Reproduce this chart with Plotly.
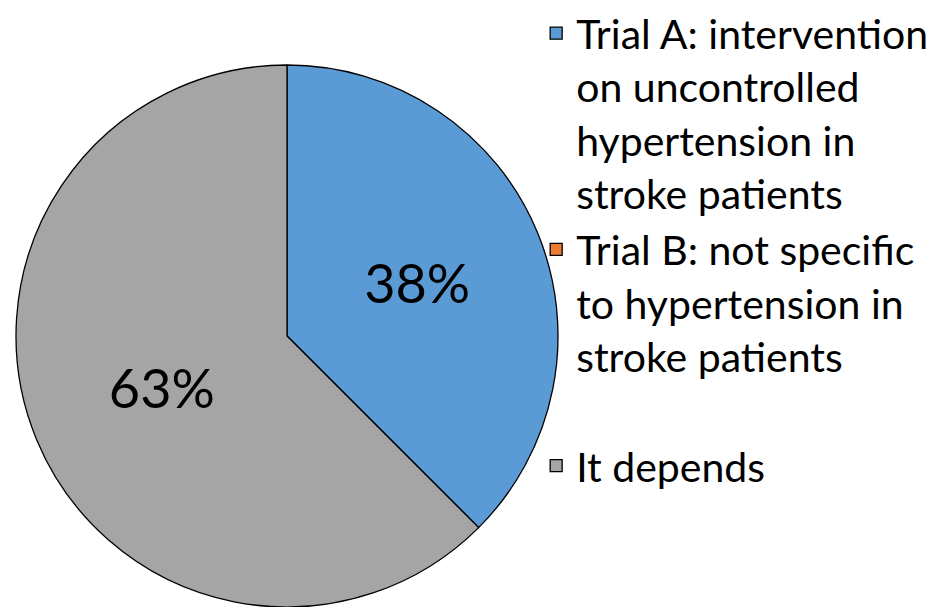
import plotly.graph_objects as go

labels = [
    "Trial A: intervention<br>on uncontrolled<br>hypertension in<br>stroke patients",
    "Trial B: not specific<br>to hypertension in<br>stroke patients<br> ",
    "It depends",
]
values = [3, 0, 5]
colors = ["#5B9BD5", "#ED7D31", "#A5A5A5"]
slice_text = ["%{percent:.0%}", "", "%{percent:.0%}"]

fig = go.Figure(
    go.Pie(
        labels=labels,
        values=values,
        sort=False,
        direction="clockwise",
        rotation=0,
        marker=dict(colors=colors, line=dict(color="black", width=1.3)),
        texttemplate=slice_text,
        textposition="inside",
        insidetextorientation="horizontal",
        textfont=dict(size=54, color="black", family="Lato"),
        domain=dict(x=[12 / 939, 562 / 939], y=[0, 1]),
        showlegend=True,
    )
)

fig.update_layout(
    width=939,
    height=607,
    margin=dict(l=0, r=0, t=59, b=0),
    paper_bgcolor="white",
    font=dict(family="Lato", color="black"),
    legend=dict(
        x=0.571,
        y=1.12,
        xanchor="left",
        yanchor="top",
        valign="top",
        maxheight=607,
        font=dict(size=41, family="Lato", color="black"),
        bgcolor="rgba(0,0,0,0)",
    ),
)

# drop the browser's default page margin so the figure sits at the window's corner
fig.write_html(
    "out.html",
    config={"displayModeBar": False},
    post_script="document.body.style.margin='0';",
)
